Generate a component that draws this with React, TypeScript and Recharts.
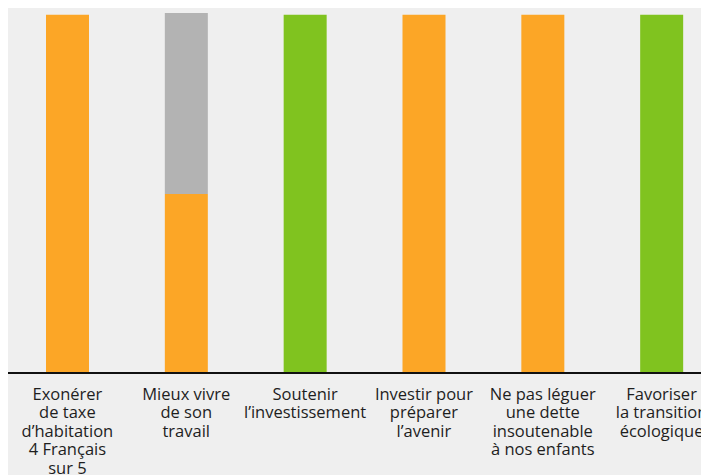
import React from "react";
import { BarChart, Bar, XAxis, YAxis } from "recharts";

const categories: string[] = [
  "Exonérer\nde taxe\nd’habitation\n4 Français\nsur 5",
  "Mieux vivre\nde son\ntravail",
  "Soutenir\nl’investissement",
  "Investir pour\npréparer\nl’avenir",
  "Ne pas léguer\nune dette\ninsoutenable\nà nos enfants",
  "Favoriser\nla transition\nécologique",
];
const orangeValues: number[] = [100, 50, 0, 100, 100, 0];
const greenValues: number[] = [0, 0, 100, 0, 0, 100];
const grayValues: number[] = [0, 50.5, 0, 0, 0, 0];

const data = categories.map((c, i) => ({
  name: c,
  orange: orangeValues[i],
  green: greenValues[i],
  gray: grayValues[i],
}));

const Tick = (props: any) => {
  const { x, y, payload } = props;
  const lines = String(payload.value).split("\n");
  return (
    <text
      x={x}
      y={y}
      textAnchor="middle"
      fill="#1e1e1e"
      fontFamily="'Open Sans', sans-serif"
      fontSize={16.5}
    >
      {lines.map((l, i) => (
        <tspan key={i} x={x} y={y + 18.5 + i * 18.5}>
          {l}
        </tspan>
      ))}
    </text>
  );
};

export default function App() {
  return (
    <div style={{ width: 713, height: 467, background: "#efefef", margin: "-8px 0 0 -8px", padding: "8px 0 0 8px" }}>
      <BarChart
        width={713}
        height={467}
        data={data}
        margin={{ top: 5, right: 0, bottom: 0, left: 0 }}
        barCategoryGap={0}
      >
        <XAxis
          dataKey="name"
          interval={0}
          tickLine={false}
          axisLine={{ stroke: "#111", strokeWidth: 2 }}
          height={102}
          tick={<Tick />}
        />
        <YAxis hide domain={[0, 100.5]} />
        <Bar dataKey="orange" stackId="a" fill="#FCA626" barSize={43} isAnimationActive={false} />
        <Bar dataKey="green" stackId="a" fill="#80C31F" barSize={43} isAnimationActive={false} />
        <Bar dataKey="gray" stackId="a" fill="#B3B3B3" barSize={43} isAnimationActive={false} />
      </BarChart>
    </div>
  );
}
